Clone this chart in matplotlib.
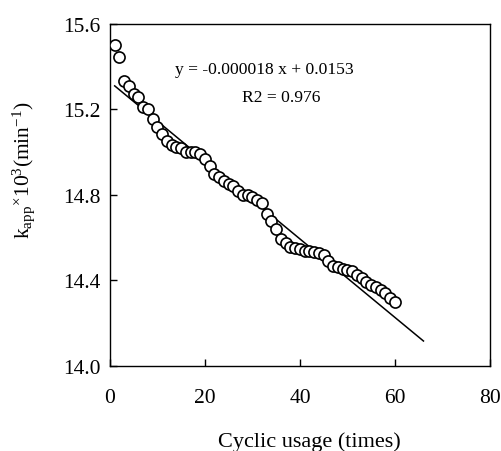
import numpy as np
import matplotlib
matplotlib.use("Agg")
import matplotlib.pyplot as plt

plt.rcParams['font.family'] = ['Liberation Serif', 'DejaVu Serif']
plt.rcParams['mathtext.fontset'] = 'custom'
plt.rcParams['mathtext.rm'] = 'Liberation Serif'
plt.rcParams['mathtext.it'] = 'Liberation Serif:italic'

# cyclic usage vs apparent rate constant (x10^3 min^-1)
cycles = np.arange(1, 61)
kapp = [15.50, 15.445, 15.335, 15.31, 15.27, 15.26, 15.21, 15.20, 15.155, 15.12,
        15.085, 15.05, 15.035, 15.025, 15.02, 15.00, 15.00, 15.00, 14.99, 14.97,
        14.935, 14.90, 14.885, 14.865, 14.85, 14.84, 14.82, 14.80, 14.80, 14.79,
        14.775, 14.76, 14.71, 14.68, 14.64, 14.595, 14.575, 14.555, 14.55, 14.545,
        14.54, 14.54, 14.535, 14.53, 14.52, 14.49, 14.47, 14.465, 14.455, 14.45,
        14.445, 14.425, 14.41, 14.395, 14.38, 14.37, 14.355, 14.34, 14.32, 14.30]

# linear trend line endpoints
fit_x = [1, 66]
fit_y = [15.31, 14.117]

eq_line = 'y = -0.000018 x + 0.0153'
r2_line = 'R2 = 0.976'

fig = plt.figure(figsize=(5.02, 4.52), dpi=100)
ax = fig.add_axes([0.219, 0.188, 0.757, 0.757])

ax.plot(fit_x, fit_y, color='black', lw=1.1, zorder=2)
ax.plot(cycles, kapp, 'o', ms=8, mfc='white', mec='black', mew=1.2, zorder=3)

ax.set_xlim(0, 80)
ax.set_ylim(14.0, 15.6)
ax.set_xticks([0, 20, 40, 60, 80])
ax.set_yticks([14.0, 14.4, 14.8, 15.2, 15.6])
ax.set_yticklabels(['14.0', '14.4', '14.8', '15.2', '15.6'])
ax.tick_params(direction='in', length=5, width=1, labelsize=15.5, top=False, right=False)
ax.tick_params(axis='x', pad=16)
ax.tick_params(axis='y', pad=7)
for s in ax.spines.values():
    s.set_linewidth(1)

ax.text(13.7, 15.39, eq_line, fontsize=12.6, ha='left', va='center')
ax.text(27.8, 15.258, r2_line, fontsize=12.6, ha='left', va='center')

ax.set_xlabel('Cyclic usage (times)', fontsize=16)
ax.xaxis.set_label_coords(0.525, -0.19)
ax.set_ylabel(r'k$_{\mathrm{app}}$$^{\times}$10$^{3}$(min$^{-1}$)', fontsize=15.5)
ax.yaxis.set_label_coords(-0.192, 0.576)

fig.savefig('out.png', dpi=100)
